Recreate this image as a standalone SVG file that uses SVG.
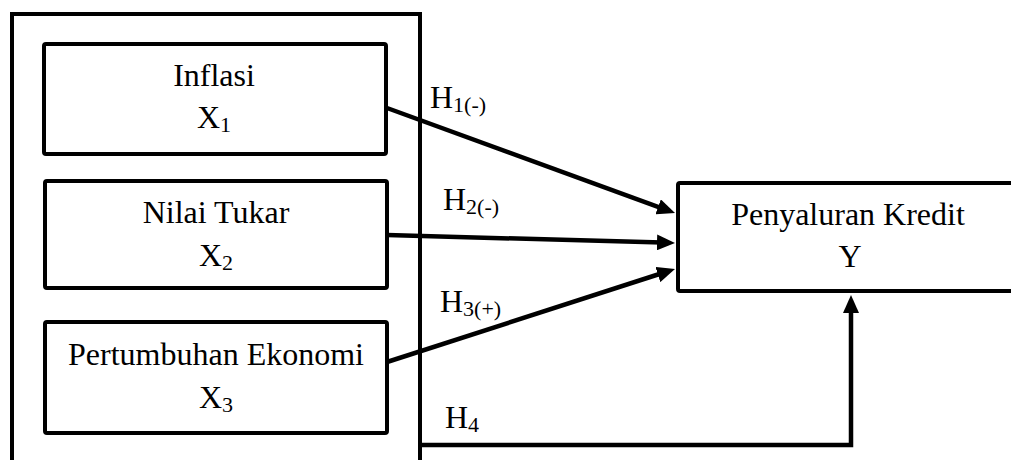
<svg xmlns="http://www.w3.org/2000/svg" width="1011" height="460" viewBox="0 0 1011 460">
<style>
.box{fill:#fff;stroke:#000;stroke-width:4;}
.frame{fill:none;stroke:#000;stroke-width:4;}
.t{font-family:"Liberation Serif","Times New Roman",serif;font-size:32px;fill:#000;}
.c{text-anchor:middle;}
.sub{font-size:22px;}
.conn{fill:none;stroke:#000;stroke-width:4.5;}
</style>
<defs>
<marker id="arr" viewBox="0 0 18 16" markerWidth="18" markerHeight="16" refX="5" refY="8" orient="auto" markerUnits="userSpaceOnUse">
<path d="M0,0 L18,8 L0,16 Z" fill="#000"/>
</marker>
</defs>
<rect width="1011" height="460" fill="#fff"/>
<g id="frame">
<path class="frame" d="M12,462 L12,14 L420,14 L420,462"/>
</g>
<g id="x1">
<rect class="box" x="44" y="44" width="342" height="110" rx="2"/>
<text class="t c" x="214" y="86">Inflasi</text>
<text class="t c" x="214" y="128">X<tspan class="sub" dy="4">1</tspan></text>
</g>
<g id="x2">
<rect class="box" x="45" y="181" width="342" height="107" rx="2"/>
<text class="t c" x="216" y="223">Nilai Tukar</text>
<text class="t c" x="216" y="266">X<tspan class="sub" dy="4">2</tspan></text>
</g>
<g id="x3">
<rect class="box" x="45" y="322" width="342" height="111" rx="2"/>
<text class="t c" x="216" y="365">Pertumbuhan Ekonomi</text>
<text class="t c" x="216" y="408">X<tspan class="sub" dy="4">3</tspan></text>
</g>
<g id="y">
<rect class="box" x="678" y="183" width="345" height="108" rx="2"/>
<text class="t c" x="848" y="225">Penyaluran Kredit</text>
<text class="t c" x="850" y="267">Y</text>
</g>
<g id="connectors">
<line class="conn" x1="387" y1="108" x2="662.8" y2="208.6" marker-end="url(#arr)"/>
<line class="conn" x1="387" y1="235" x2="662" y2="242.6" marker-end="url(#arr)"/>
<line class="conn" x1="387" y1="362" x2="662.6" y2="273" marker-end="url(#arr)"/>
<polyline class="conn" points="420,445 851,445 851,308" marker-end="url(#arr)"/>
</g>
<g id="labels">
<text class="t" x="430" y="108">H<tspan class="sub" dy="4">1(-)</tspan></text>
<text class="t" x="443" y="210">H<tspan class="sub" dy="4">2(-)</tspan></text>
<text class="t" x="440" y="312">H<tspan class="sub" dy="4">3(+)</tspan></text>
<text class="t" x="445" y="428">H<tspan class="sub" dy="4">4</tspan></text>
</g>
</svg>
